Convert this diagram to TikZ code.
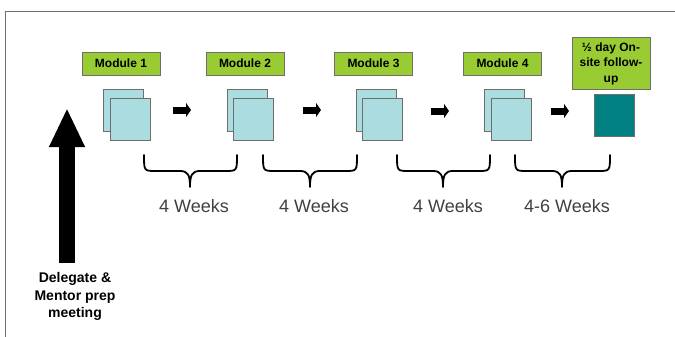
\documentclass[tikz,border=0pt]{standalone}
\usepackage{fontspec}
\setmainfont{Liberation Sans}
\usetikzlibrary{arrows.meta,calc}
\definecolor{lblgreen}{HTML}{99CC33}
\definecolor{sqblue}{HTML}{AADCE0}
\definecolor{sqteal}{HTML}{008080}
\definecolor{edgegray}{HTML}{6E6E6E}
\definecolor{weekgray}{HTML}{404040}
\tikzset{
  modlabel/.style={draw=edgegray, line width=0.8pt, fill=lblgreen, minimum width=78pt, minimum height=23pt, inner sep=0pt, font=\fontsize{12}{14}\selectfont\bfseries},
  sqbox/.style={draw=edgegray, line width=0.8pt, fill=sqblue, minimum width=40pt, minimum height=42pt, inner sep=0pt},
  tealbox/.style={draw=edgegray, line width=0.8pt, fill=sqteal, minimum width=40pt, minimum height=42pt, inner sep=0pt},
  weeklabel/.style={anchor=base, text=weekgray, font=\fontsize{18}{20}\selectfont, inner sep=0pt},
  smallarrow/.style={line width=7pt, -{Triangle[length=5pt,width=14pt]}},
  bigarrow/.style={line width=16pt, -{Triangle[length=39pt,width=33pt]}},
  bracestyle/.style={line width=1.8pt, line join=round, line cap=round}
}
\newcommand{\mybrace}[3]{%
  \draw[bracestyle] (#1,155) .. controls (#1,171) and (#1,171) .. (#1+12,171)
    -- (#2-10,171) .. controls (#2-2,171) and (#2,175) .. (#2,187)
    .. controls (#2,175) and (#2+2,171) .. (#2+10,171)
    -- (#3-12,171) .. controls (#3,171) and (#3,171) .. (#3,155);}
\begin{document}
\begin{tikzpicture}[x=1pt,y=-1pt]
\useasboundingbox (0,0) rectangle (675,337);
\fill[white] (0,0) rectangle (675,337);
% frame
\draw[edgegray, line width=1pt] (5,337) -- (5,12) -- (675,12);

% module labels
\node[modlabel] (m1) at (121,63.5) {Module 1};
\node[modlabel] (m2) at (245,63.5) {Module 2};
\node[modlabel] (m3) at (373.5,63.5) {Module 3};
\node[modlabel] (m4) at (502.5,63.5) {Module 4};
\node[modlabel, minimum height=52pt, align=center, font=\fontsize{12}{15.5}\selectfont\bfseries] (m5) at (611,63.5) {½ day On-\\site follow-\\up};

% squares
\node[sqbox] (b1) at (123,110) {};
\node[sqbox] (f1) at (130,119) {};
\node[sqbox] (b2) at (247,110) {};
\node[sqbox] (f2) at (253,119) {};
\node[sqbox] (b3) at (376,110) {};
\node[sqbox] (f3) at (382.5,119) {};
\node[sqbox] (b4) at (504,110) {};
\node[sqbox] (f4) at (511,119) {};
\node[tealbox] (t5) at (614,115) {};

% small arrows
\coordinate (a1s) at (173,110); \coordinate (a1e) at (191,110);
\coordinate (a2s) at (303,110); \coordinate (a2e) at (321,110);
\coordinate (a3s) at (431,111); \coordinate (a3e) at (449,111);
\coordinate (a4s) at (551,111); \coordinate (a4e) at (569,111);
\draw[smallarrow] (a1s) -- (a1e);
\draw[smallarrow] (a2s) -- (a2e);
\draw[smallarrow] (a3s) -- (a3e);
\draw[smallarrow] (a4s) -- (a4e);

% big arrow
\coordinate (bigs) at (67,263);
\coordinate (bige) at (67,108);
\draw[bigarrow] (bigs) -- (bige);
\node[align=center, font=\fontsize{14}{17.5}\selectfont\bfseries, anchor=north] (prep) at (75,269) {Delegate \&\\Mentor prep\\meeting};

% braces
\mybrace{144}{190}{237}
\mybrace{263}{310}{357}
\mybrace{397}{443}{490}
\mybrace{515}{562}{610}

% week labels
\node[weeklabel] (w1) at (194,212) {4 Weeks};
\node[weeklabel] (w2) at (314,212) {4 Weeks};
\node[weeklabel] (w3) at (448,212) {4 Weeks};
\node[weeklabel] (w4) at (567,212) {4-6 Weeks};
\end{tikzpicture}
\end{document}
